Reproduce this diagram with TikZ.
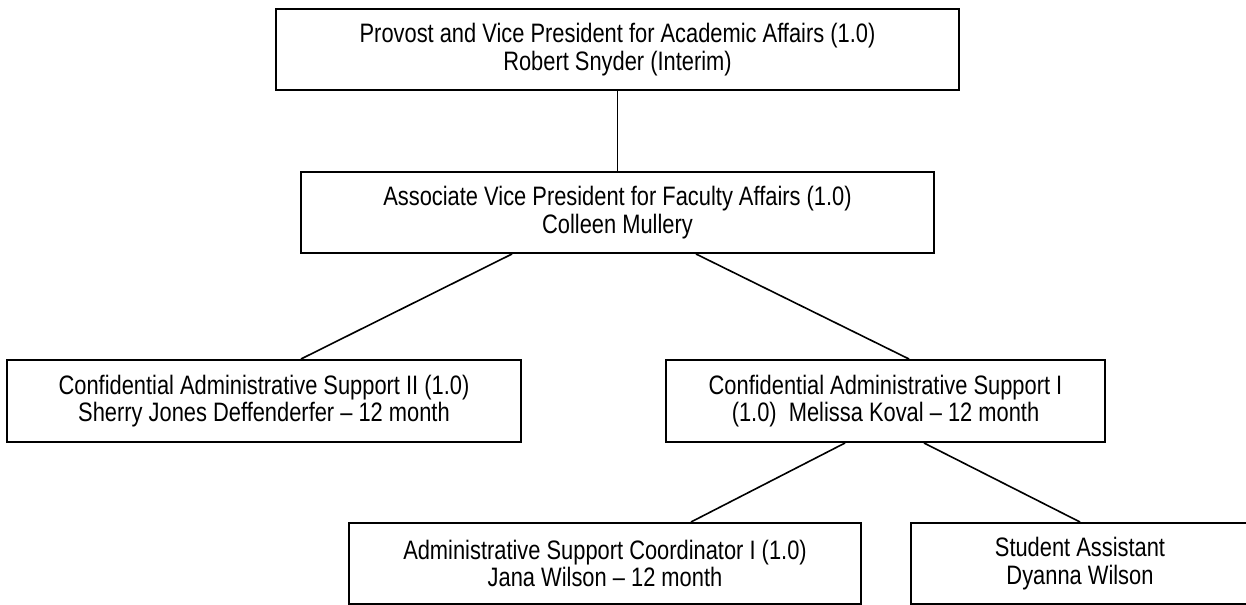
\documentclass[tikz,border=0pt]{standalone}
\usepackage{fontspec}
\setmainfont[FakeStretch=0.82]{Liberation Sans}
\usetikzlibrary{calc}
\begin{document}
\begin{tikzpicture}[x=0.75pt,y=-0.75pt,
  orgbox/.style={draw=black,line width=1.5pt,rectangle,inner sep=0pt,align=center,
    font=\fontsize{20}{20.5}\selectfont},
  link/.style={draw=black,line width=1.2pt}]
\useasboundingbox (0,0) rectangle (1246,605);
\node[orgbox,minimum width=512.25pt,minimum height=60.4pt] (b1) at (617.5,49.5)
  {Provost and Vice President for Academic Affairs (1.0)\\Robert Snyder (Interim)};
\node[orgbox,minimum width=474.75pt,minimum height=60.75pt] (b2) at (617.5,212.5)
  {Associate Vice President for Faculty Affairs (1.0)\\Colleen Mullery};
\node[orgbox,minimum width=385.5pt,minimum height=61.5pt] (b3) at (264,401)
  {Confidential Administrative Support II (1.0)\\Sherry Jones Deffenderfer – 12 month};
\node[orgbox,minimum width=329.25pt,minimum height=61.5pt] (b4) at (885.5,401)
  {Confidential Administrative Support I\\(1.0)\ \ Melissa Koval – 12 month};
\node[orgbox,minimum width=384pt,minimum height=60.75pt] (b5) at (605,563.5)
  {Administrative Support Coordinator I (1.0)\\Jana Wilson – 12 month};
\node[orgbox,minimum width=253.5pt,minimum height=60.75pt] (b6) at (1080,563.5)
  {Student Assistant\\Dyanna Wilson};
\draw[link] (b1.south) -- (b2.north);
\draw[link] ($(b2.south west)+(212,0)$) -- ($(b3.north west)+(295,0)$);
\draw[link] ($(b2.south west)+(396,0)$) -- ($(b4.north west)+(244,0)$);
\draw[link] ($(b4.south west)+(180,0)$) -- ($(b5.north west)+(343,0)$);
\draw[link] ($(b4.south west)+(259,0)$) -- (b6.north);
\end{tikzpicture}
\end{document}
